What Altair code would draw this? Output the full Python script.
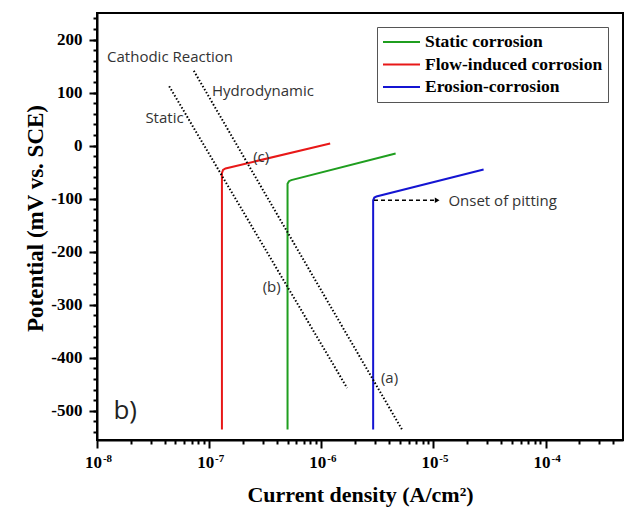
import altair as alt
import pandas as pd

# ---- polarization curves (current density A/cm2, potential mV) ----
series_names = ["Static corrosion", "Flow-induced corrosion", "Erosion-corrosion"]
series_colors = ["#1f9e1f", "#e81818", "#1414d2"]

static_x = [5.0e-7, 5.0e-7, 5.15e-7, 5.4e-7, 4.6e-6]
static_y = [-535, -72, -67, -65, -15]
flow_x = [1.3e-7, 1.3e-7, 1.33e-7, 1.4e-7, 1.2e-6]
flow_y = [-535, -52, -46, -43, 4]
erosion_x = [2.9e-6, 2.9e-6, 2.97e-6, 3.1e-6, 2.8e-5]
erosion_y = [-535, -103, -98, -96, -45]

# ---- cathodic reaction lines ----
cath_names = ["Static", "Hydrodynamic"]
cath_static_x = [4.4e-8, 1.7e-6]
cath_static_y = [112, -457]
cath_hydro_x = [7.3e-8, 5.3e-6]
cath_hydro_y = [141, -537]

# ---- annotations ----
ann_text = ["Cathodic Reaction", "Hydrodynamic", "Static", "(c)", "(b)", "(a)", "Onset of pitting"]
ann_x = [1.23e-8, 1.06e-7, 2.7e-8, 2.47e-7, 3.0e-7, 3.4e-6, 1.36e-5]
ann_y = [167, 103, 52, -22, -266, -439, -105]
panel_text = ["b)"]
panel_x = [1.4e-8]
panel_y = [-500]
arrow_x = [2.95e-6, 1.08e-5]
arrow_y = [-103, -103]

# ---- ticks ----
x_decades = [10.0 ** e for e in range(-8, -3)]
x_exponents = ["-8", "-7", "-6", "-5", "-4"]
x_minor = [m * 10 ** e for e in range(-8, -3) for m in range(2, 10)]
y_major = list(range(-500, 250, 100))
y_minor = list(range(-540, 250, 20))

rows = []
for name, xs, ys in zip(series_names, [static_x, flow_x, erosion_x], [static_y, flow_y, erosion_y]):
    for i, (a, b) in enumerate(zip(xs, ys)):
        rows.append({"series": name, "x": a, "y": b, "o": i})
curves = pd.DataFrame(rows)

crows = []
for name, xs, ys in zip(cath_names, [cath_static_x, cath_hydro_x], [cath_static_y, cath_hydro_y]):
    for i, (a, b) in enumerate(zip(xs, ys)):
        crows.append({"line": name, "x": a, "y": b, "o": i})
cath = pd.DataFrame(crows)

ann = pd.DataFrame({"t": ann_text, "x": ann_x, "y": ann_y})
panel = pd.DataFrame({"t": panel_text, "x": panel_x, "y": panel_y})
arrow = pd.DataFrame({"x": arrow_x, "y": arrow_y, "o": [0, 1]})
arrow_head = pd.DataFrame({"x": [arrow_x[1]], "y": [arrow_y[1]]})
anchor_df = pd.DataFrame({"x": x_decades, "y": [0] * len(x_decades)})

exp_expr = " : ".join(
    [f"datum.value == {v!r} ? '{s}'" for v, s in zip(x_decades, x_exponents)]
) + " : ''"

serif = "Liberation Serif"
sans = "Open Sans"

x_scale = alt.Scale(type="log", domain=[1e-8, 4.9e-4], nice=False)
y_scale = alt.Scale(domain=[-555, 250], nice=False, zero=False)

x_axis = alt.Axis(
    title="Current density (A/cm²)", orient="bottom", values=x_decades,
    labelExpr="'10'", tickSize=8, labelOffset=-4,
    labelFlush=False, labelOverlap=False, grid=False,
)
x_exp_axis = alt.Axis(
    title=None, orient="bottom", values=x_decades, labelExpr=exp_expr,
    ticks=False, domain=False, labelFontSize=11, labelOffset=10, labelPadding=12,
    labelFlush=False, labelOverlap=False, grid=False,
)
x_minor_axis = alt.Axis(
    title=None, orient="bottom", values=x_minor, labels=False,
    tickSize=4, domain=False, grid=False,
)
y_axis = alt.Axis(
    title="Potential (mV vs. SCE)", orient="left", values=y_major,
    tickSize=8, labelOverlap=False, grid=False, labelPadding=7,
    labelExpr="'' + datum.value", titleFontSize=23, titlePadding=3, titleY=205,
)
y_minor_axis = alt.Axis(
    title=None, orient="left", values=y_minor, labels=False,
    tickSize=4, domain=False, grid=False,
)

curve_layer = alt.Chart(curves).mark_line(strokeWidth=2).encode(
    x=alt.X("x:Q", scale=x_scale, axis=x_axis),
    y=alt.Y("y:Q", scale=y_scale, axis=y_axis),
    color=alt.Color(
        "series:N",
        scale=alt.Scale(domain=series_names, range=series_colors),
        legend=alt.Legend(
            orient="none", legendX=280, legendY=14, title=None,
            symbolType="stroke", symbolSize=1369, symbolStrokeWidth=2,
            labelFont=serif, labelFontWeight="bold", labelFontSize=17.5,
            labelColor="black", strokeColor="#555", padding=5, labelLimit=400,
            clipHeight=20, rowPadding=2.5, labelOffset=4,
        ),
    ),
    order="o:Q",
)

exp_layer = alt.Chart(anchor_df).mark_point(opacity=0).encode(
    x=alt.X("x:Q", scale=x_scale, axis=x_exp_axis),
    y=alt.Y("y:Q", axis=None),
)

minor_layer = alt.Chart(anchor_df).mark_point(opacity=0).encode(
    x=alt.X("x:Q", scale=x_scale, axis=x_minor_axis),
    y=alt.Y("y:Q", axis=y_minor_axis),
)

noax_x = alt.X("x:Q", axis=None)
noax_y = alt.Y("y:Q", axis=None)

cath_layer = alt.Chart(cath).mark_line(
    strokeWidth=2, color="black", strokeDash=[1.5, 2]
).encode(x=noax_x, y=noax_y, detail="line:N", order="o:Q")

arrow_layer = alt.Chart(arrow).mark_line(
    strokeWidth=1.5, color="black", strokeDash=[4, 3]
).encode(x=noax_x, y=noax_y, order="o:Q")

head_layer = alt.Chart(arrow_head).mark_point(
    shape="triangle-right", filled=True, color="black", size=30, opacity=1
).encode(x=noax_x, y=noax_y)

ann_layer = alt.Chart(ann).mark_text(
    align="left", baseline="middle", font=sans, fontSize=15, color="#333"
).encode(x=noax_x, y=noax_y, text="t:N")

panel_layer = alt.Chart(panel).mark_text(
    align="left", baseline="middle", font=sans, fontSize=26, color="#222"
).encode(x=noax_x, y=noax_y, text="t:N")

chart = alt.layer(
    curve_layer, exp_layer, minor_layer, cath_layer, arrow_layer, head_layer,
    ann_layer, panel_layer,
).resolve_axis(x="independent", y="independent").properties(
    width=526, height=427,
    autosize=alt.AutoSizeParams(type="none"),
    padding={"left": 97, "top": 13, "right": 2, "bottom": 69},
).configure_view(
    stroke="black", strokeWidth=2
).configure_axis(
    domainColor="black", domainWidth=2, tickColor="black", tickWidth=2,
    labelFont=serif, labelFontWeight="bold", labelFontSize=17, labelColor="black",
    titleFont=serif, titleFontWeight="bold", titleFontSize=22, titleColor="black",
    labelPadding=4,
).configure_axisX(titlePadding=14, labelPadding=6)

chart.save("out.html", embed_options={"renderer": "svg", "actions": False})
